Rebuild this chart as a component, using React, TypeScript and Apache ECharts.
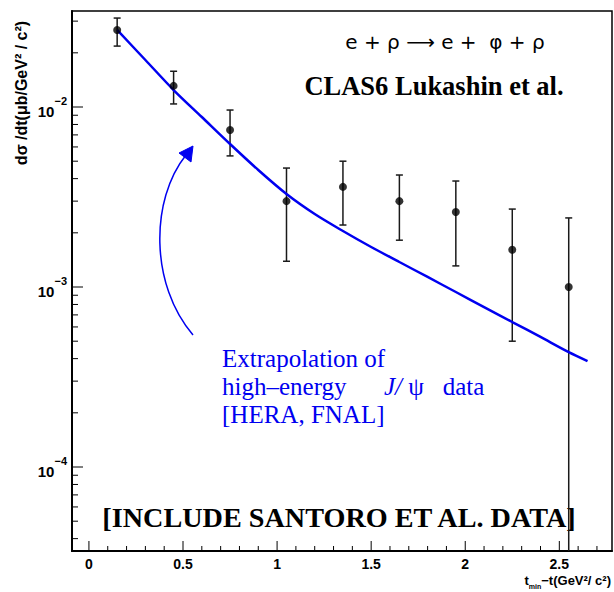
import React, { useEffect, useRef } from 'react';
import * as echarts from 'echarts';

// Measured phi electroproduction cross section (CLAS6)
const tValues = [0.15, 0.45, 0.75, 1.05, 1.35, 1.65, 1.95, 2.25, 2.55];
const sigmaValues = [0.0268, 0.0131, 0.00745, 0.003, 0.0036, 0.003, 0.00261, 0.00161, 0.001];
const sigmaUpper = [0.0312, 0.0158, 0.00962, 0.00458, 0.005, 0.00419, 0.00388, 0.00271, 0.00242];
const sigmaLower = [0.0218, 0.0104, 0.00535, 0.00139, 0.00221, 0.00182, 0.00131, 0.0005, 0.00001];

// Extrapolated high-energy J/psi curve
const curveT = [0.15, 0.3, 0.45, 0.6, 0.75, 0.9, 1.05, 1.2, 1.35, 1.5, 1.65, 1.8, 1.95, 2.1, 2.25, 2.4, 2.55, 2.65];
const curveValues = [
  0.02679, 0.01825, 0.01243, 0.008799, 0.006228, 0.004467, 0.003286, 0.002544, 0.002047,
  0.001668, 0.001377, 0.001137, 0.000938, 0.000774, 0.000639, 0.000528, 0.000435, 0.000388,
];

// Axis ticks
const xTickValues = [0, 0.5, 1, 1.5, 2, 2.5];
const xTickLabels = ['0', '0.5', '1', '1.5', '2', '2.5'];
const yTickExponents = [-4, -3, -2];
const yTickLabels = ['−4', '−3', '−2'];

const X_MIN = -0.09;
const X_MAX = 2.78;
const Y_MIN = 3.415e-5;
const Y_MAX = 3.415e-2;

const SANS = '"Liberation Sans", Arial, Helvetica, sans-serif';
const SERIF = '"Liberation Serif", "Times New Roman", serif';
const BLUE = '#0000f0';

function buildMinorX(): number[] {
  const out: number[] = [];
  for (let i = 1; i <= 27; i++) {
    if (i % 5 !== 0) out.push(i / 10);
  }
  return out;
}

function buildMinorY(): number[] {
  const out: number[] = [];
  for (let e = -5; e <= -2; e++) {
    for (let m = 2; m <= 9; m++) {
      const v = m * Math.pow(10, e);
      if (v > Y_MIN && v < Y_MAX) out.push(v);
    }
  }
  return out;
}

export default function App() {
  const ref = useRef<HTMLDivElement>(null);

  useEffect(() => {
    if (!ref.current) return;
    const chart = echarts.init(ref.current, undefined, { renderer: 'svg' });

    const tickLine = (x1: number, y1: number, x2: number, y2: number) => ({
      type: 'line',
      shape: { x1, y1, x2, y2 },
      style: { stroke: '#000', lineWidth: 1 },
    });

    const option: any = {
      animation: false,
      backgroundColor: '#fff',
      grid: {
        left: 72,
        top: 11,
        width: 540,
        height: 540,
        show: true,
        borderColor: '#000',
        borderWidth: 1.5,
        backgroundColor: 'transparent',
      },
      xAxis: {
        type: 'value',
        min: X_MIN,
        max: X_MAX,
        axisLine: { show: true, onZero: false, lineStyle: { color: '#000', width: 2 } },
        axisTick: { show: false },
        axisLabel: { show: false },
        splitLine: { show: false },
      },
      yAxis: {
        type: 'log',
        logBase: 10,
        min: Y_MIN,
        max: Y_MAX,
        axisLine: { show: true, onZero: false, lineStyle: { color: '#000', width: 2 } },
        axisTick: { show: false },
        axisLabel: { show: false },
        splitLine: { show: false },
      },
      series: [
        // x-axis major ticks with labels
        {
          type: 'custom',
          silent: true,
          data: xTickValues.map((v) => [v, Y_MIN]),
          renderItem: (params: any, api: any) => {
            const cs = params.coordSys;
            const x = api.coord([api.value(0), Y_MIN])[0];
            const b = cs.y + cs.height;
            return {
              type: 'group',
              children: [
                tickLine(x, b, x, b - 10),
                {
                  type: 'text',
                  x,
                  y: b + 6,
                  style: {
                    text: xTickLabels[params.dataIndex],
                    fill: '#000',
                    fontSize: 14,
                    fontWeight: 'bold',
                    fontFamily: SANS,
                    align: 'center',
                    verticalAlign: 'top',
                  },
                },
              ],
            };
          },
        },
        // x-axis minor ticks
        {
          type: 'custom',
          silent: true,
          data: buildMinorX().map((v) => [v, Y_MIN]),
          renderItem: (params: any, api: any) => {
            const cs = params.coordSys;
            const x = api.coord([api.value(0), Y_MIN])[0];
            const b = cs.y + cs.height;
            return tickLine(x, b, x, b - 5);
          },
        },
        // y-axis major ticks with labels
        {
          type: 'custom',
          silent: true,
          data: yTickExponents.map((e) => [X_MIN, Math.pow(10, e)]),
          renderItem: (params: any, api: any) => {
            const cs = params.coordSys;
            const y = api.coord([X_MIN, api.value(1)])[1];
            const l = cs.x;
            return {
              type: 'group',
              children: [
                tickLine(l, y, l + 11, y),
                {
                  type: 'text',
                  x: l - 5,
                  y,
                  style: {
                    text: '{b|10}{s|' + yTickLabels[params.dataIndex] + '}',
                    align: 'right',
                    verticalAlign: 'middle',
                    rich: {
                      b: {
                        fontSize: 15,
                        fontWeight: 'bold',
                        fontFamily: SANS,
                        fill: '#000',
                        lineHeight: 24,
                        verticalAlign: 'bottom',
                      },
                      s: {
                        fontSize: 11,
                        fontWeight: 'bold',
                        fontFamily: SANS,
                        fill: '#000',
                        lineHeight: 12,
                        verticalAlign: 'top',
                      },
                    },
                  },
                },
              ],
            };
          },
        },
        // y-axis minor ticks
        {
          type: 'custom',
          silent: true,
          data: buildMinorY().map((v) => [X_MIN, v]),
          renderItem: (params: any, api: any) => {
            const cs = params.coordSys;
            const y = api.coord([X_MIN, api.value(1)])[1];
            return tickLine(cs.x, y, cs.x + 6, y);
          },
        },
        // error bars
        {
          type: 'custom',
          silent: true,
          z: 2,
          data: tValues.map((t, i) => [t, sigmaLower[i], sigmaUpper[i]]),
          encode: { x: 0, y: [1, 2] },
          renderItem: (params: any, api: any) => {
            const cs = params.coordSys;
            const t = api.value(0);
            const top = api.coord([t, api.value(2)]);
            const bot = api.coord([t, api.value(1)]);
            const yBottom = cs.y + cs.height;
            const yb = Math.min(bot[1], yBottom);
            const stroke = { stroke: '#1a1a1a', lineWidth: 1.5 };
            const children: any[] = [
              { type: 'line', shape: { x1: top[0], y1: top[1], x2: top[0], y2: yb }, style: stroke },
              { type: 'line', shape: { x1: top[0] - 3.5, y1: top[1], x2: top[0] + 3.5, y2: top[1] }, style: stroke },
            ];
            if (bot[1] < yBottom) {
              children.push({
                type: 'line',
                shape: { x1: bot[0] - 3.5, y1: bot[1], x2: bot[0] + 3.5, y2: bot[1] },
                style: stroke,
              });
            }
            return { type: 'group', children };
          },
        },
        // extrapolation curve
        {
          type: 'line',
          z: 3,
          data: curveT.map((t, i) => [t, curveValues[i]]),
          smooth: 0.3,
          symbol: 'none',
          lineStyle: { color: BLUE, width: 2.5 },
        },
        // measured points
        {
          type: 'scatter',
          z: 4,
          data: tValues.map((t, i) => [t, sigmaValues[i]]),
          symbol: 'circle',
          symbolSize: 8,
          itemStyle: { color: '#000' },
        },
      ],
      graphic: [
        {
          type: 'text',
          x: 445,
          y: 42,
          style: {
            text: 'e + ρ ⟶ e +  φ + ρ',
            fill: '#000',
            fontSize: 20,
            fontFamily: '"DejaVu Sans", sans-serif',
            align: 'center',
            verticalAlign: 'middle',
          },
        },
        {
          type: 'text',
          x: 434,
          y: 86,
          style: {
            text: 'CLAS6 Lukashin et al.',
            fill: '#000',
            fontSize: 26.5,
            fontWeight: 'bold',
            fontFamily: SERIF,
            align: 'center',
            verticalAlign: 'middle',
          },
        },
        {
          type: 'text',
          x: 222,
          y: 345,
          style: {
            text:
              '{n|Extrapolation of}\n' +
              '{n|high–energy}{n|      }{i|J/}{n| ψ   data}\n' +
              '{n|[HERA, FNAL]}',
            align: 'left',
            verticalAlign: 'top',
            rich: {
              n: { fontSize: 25, lineHeight: 27.8, fontFamily: SERIF, fill: BLUE },
              i: { fontSize: 25, lineHeight: 27.8, fontFamily: SERIF, fontStyle: 'italic', fill: BLUE },
            },
          },
        },
        {
          type: 'text',
          x: 339,
          y: 517,
          style: {
            text: '[INCLUDE SANTORO ET AL. DATA]',
            fill: '#000',
            fontSize: 28.2,
            fontWeight: 'bold',
            fontFamily: SERIF,
            align: 'center',
            verticalAlign: 'middle',
          },
        },
        // curved arrow pointing at the curve
        {
          type: 'bezierCurve',
          shape: { x1: 193, y1: 335, cpx1: 150, cpy1: 285, cpx2: 150, cpy2: 200, x2: 186, y2: 155 },
          style: { stroke: BLUE, lineWidth: 1.5, fill: null },
        },
        {
          type: 'polygon',
          shape: { points: [[193, 146], [179, 153], [191, 162]] },
          style: { fill: BLUE, stroke: BLUE, lineWidth: 1 },
        },
        // y-axis title
        {
          type: 'text',
          x: 21,
          y: 93,
          rotation: Math.PI / 2,
          style: {
            text: 'dσ /dt(μb/GeV² / c²)',
            fill: '#000',
            fontSize: 16,
            fontWeight: 'bold',
            fontFamily: SANS,
            align: 'center',
            verticalAlign: 'middle',
          },
        },
        // x-axis title
        {
          type: 'text',
          x: 611,
          y: 582,
          style: {
            text: '{t|t}{m|min}{t|−t(GeV²/ c²)}',
            align: 'right',
            verticalAlign: 'middle',
            rich: {
              t: { fontSize: 13, fontWeight: 'bold', fontFamily: SANS, fill: '#000', lineHeight: 16, verticalAlign: 'top' },
              m: { fontSize: 7, fontWeight: 'bold', fontFamily: SANS, fill: '#000', lineHeight: 7, verticalAlign: 'bottom' },
            },
          },
        },
      ],
    };

    chart.setOption(option);
    return () => chart.dispose();
  }, []);

  return <div ref={ref} style={{ width: 614, height: 592, position: 'absolute', left: 0, top: 0 }} />;
}
